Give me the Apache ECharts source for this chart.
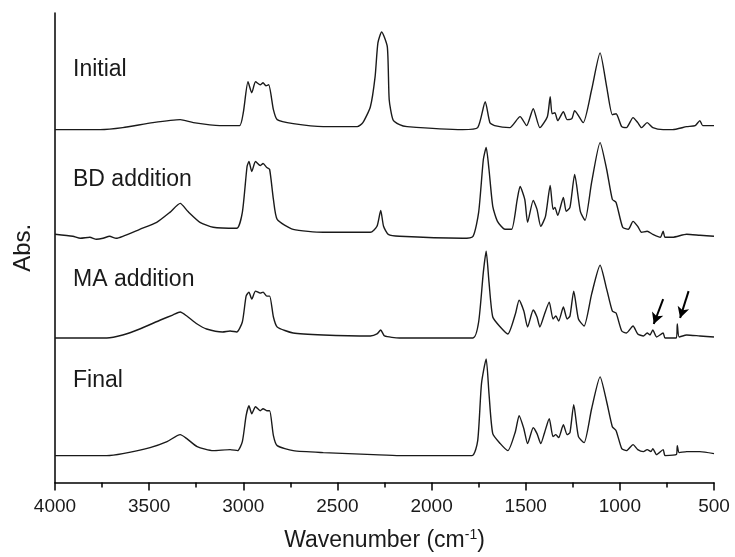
<!DOCTYPE html>
<html>
<head>
<meta charset="utf-8">
<script src="https://cdn.jsdelivr.net/npm/echarts@6/dist/echarts.min.js"></script>
<style>
  html, body { margin: 0; padding: 0; background: #fff; }
  #chart { width: 735px; height: 557px; }
</style>
</head>
<body>
<div id="chart"></div>
<script>
// spectra (wavenumber cm-1, stacked absorbance)
var initialWn = [4000, 3760, 3640, 3480, 3335, 3265, 3125, 3020, 3000, 2975, 2955, 2935, 2910, 2895, 2880, 2865, 2840, 2820, 2735, 2575, 2395, 2365, 2325, 2300, 2285, 2265, 2235, 2225, 2205, 2170, 2130, 1835, 1755, 1715, 1690, 1665, 1585, 1530, 1495, 1460, 1425, 1385, 1370, 1360, 1345, 1330, 1300, 1280, 1255, 1240, 1195, 1150, 1105, 1070, 1040, 1020, 990, 965, 930, 905, 885, 855, 825, 770, 720, 645, 600, 575, 560, 500];
var initialAbs = [3.54, 3.54, 3.56, 3.61, 3.64, 3.61, 3.58, 3.58, 3.71, 4.02, 3.91, 4.02, 3.99, 4.01, 3.98, 3.99, 3.74, 3.64, 3.60, 3.57, 3.57, 3.61, 3.77, 4.07, 4.41, 4.52, 4.37, 3.84, 3.64, 3.59, 3.57, 3.54, 3.56, 3.82, 3.61, 3.58, 3.56, 3.67, 3.58, 3.75, 3.56, 3.67, 3.87, 3.70, 3.71, 3.63, 3.72, 3.64, 3.65, 3.73, 3.61, 3.94, 4.31, 3.97, 3.69, 3.70, 3.57, 3.56, 3.66, 3.61, 3.56, 3.61, 3.56, 3.54, 3.54, 3.57, 3.58, 3.63, 3.58, 3.58];

var bdWn = [4000, 3905, 3865, 3815, 3780, 3745, 3710, 3675, 3640, 3550, 3460, 3390, 3335, 3295, 3230, 3160, 3035, 3005, 2980, 2970, 2955, 2935, 2910, 2895, 2875, 2860, 2840, 2820, 2735, 2575, 2325, 2290, 2270, 2255, 2230, 2170, 1835, 1780, 1750, 1725, 1710, 1695, 1675, 1650, 1610, 1575, 1545, 1530, 1505, 1490, 1460, 1440, 1420, 1395, 1370, 1355, 1345, 1330, 1300, 1285, 1265, 1240, 1210, 1185, 1150, 1105, 1070, 1040, 1020, 985, 955, 930, 905, 885, 855, 825, 785, 770, 760, 720, 645, 575, 500];
var bdAbs = [2.49, 2.47, 2.45, 2.46, 2.44, 2.45, 2.47, 2.45, 2.47, 2.54, 2.61, 2.71, 2.80, 2.72, 2.61, 2.56, 2.55, 2.71, 3.17, 3.22, 3.12, 3.22, 3.18, 3.20, 3.16, 3.14, 2.84, 2.64, 2.54, 2.51, 2.51, 2.57, 2.73, 2.57, 2.49, 2.47, 2.45, 2.47, 2.71, 3.24, 3.36, 3.14, 2.77, 2.62, 2.54, 2.54, 2.84, 2.97, 2.84, 2.61, 2.83, 2.74, 2.57, 2.67, 2.98, 2.74, 2.76, 2.68, 2.86, 2.72, 2.76, 3.09, 2.72, 2.63, 3.01, 3.41, 3.14, 2.84, 2.81, 2.56, 2.54, 2.62, 2.57, 2.51, 2.52, 2.49, 2.46, 2.52, 2.46, 2.46, 2.49, 2.48, 2.47];

var maWn = [4000, 3725, 3640, 3550, 3440, 3375, 3335, 3300, 3245, 3195, 3110, 3070, 3035, 3005, 2985, 2970, 2955, 2935, 2910, 2895, 2875, 2860, 2840, 2820, 2735, 2575, 2325, 2290, 2270, 2250, 2170, 1780, 1750, 1725, 1710, 1695, 1675, 1635, 1595, 1555, 1535, 1510, 1490, 1460, 1440, 1425, 1400, 1375, 1355, 1340, 1325, 1300, 1280, 1265, 1245, 1220, 1190, 1150, 1105, 1070, 1040, 1020, 990, 965, 930, 905, 875, 855, 840, 825, 805, 770, 760, 700, 695, 685, 645, 575, 500];
var maAbs = [1.45, 1.45, 1.48, 1.54, 1.63, 1.68, 1.71, 1.67, 1.59, 1.54, 1.51, 1.52, 1.51, 1.61, 1.87, 1.91, 1.84, 1.92, 1.90, 1.91, 1.87, 1.87, 1.66, 1.56, 1.50, 1.48, 1.47, 1.49, 1.53, 1.47, 1.45, 1.45, 1.61, 2.11, 2.32, 2.01, 1.66, 1.56, 1.49, 1.69, 1.83, 1.72, 1.56, 1.73, 1.66, 1.56, 1.69, 1.81, 1.64, 1.67, 1.62, 1.76, 1.64, 1.67, 1.92, 1.64, 1.57, 1.89, 2.18, 1.94, 1.72, 1.70, 1.52, 1.50, 1.57, 1.49, 1.47, 1.50, 1.48, 1.53, 1.46, 1.50, 1.45, 1.45, 1.59, 1.46, 1.48, 1.47, 1.46];

var finalWn = [4000, 3725, 3640, 3495, 3405, 3335, 3300, 3245, 3160, 3070, 3030, 3005, 2985, 2970, 2955, 2935, 2910, 2895, 2875, 2860, 2840, 2820, 2735, 2575, 2310, 2170, 1785, 1755, 1735, 1710, 1695, 1675, 1635, 1595, 1555, 1535, 1510, 1490, 1460, 1440, 1420, 1400, 1375, 1355, 1340, 1325, 1300, 1280, 1265, 1245, 1220, 1190, 1150, 1105, 1070, 1040, 1020, 990, 965, 930, 905, 875, 855, 835, 825, 805, 770, 760, 700, 695, 685, 645, 575, 500];
var finalAbs = [0.27, 0.27, 0.29, 0.35, 0.41, 0.48, 0.44, 0.36, 0.32, 0.33, 0.32, 0.41, 0.67, 0.77, 0.69, 0.76, 0.72, 0.74, 0.72, 0.72, 0.47, 0.37, 0.32, 0.30, 0.28, 0.27, 0.27, 0.42, 0.99, 1.24, 0.89, 0.49, 0.39, 0.32, 0.51, 0.67, 0.54, 0.39, 0.55, 0.49, 0.39, 0.50, 0.64, 0.46, 0.48, 0.45, 0.58, 0.48, 0.50, 0.78, 0.46, 0.40, 0.74, 1.06, 0.81, 0.56, 0.52, 0.34, 0.32, 0.38, 0.33, 0.31, 0.33, 0.31, 0.34, 0.28, 0.33, 0.27, 0.28, 0.37, 0.30, 0.31, 0.31, 0.29];

var traceNames = ['Initial', 'BD addition', 'MA addition', 'Final'];
var xTicks = [4000, 3500, 3000, 2500, 2000, 1500, 1000, 500];

// arrows on the MA trace: [from, to] as [wavenumber, abs]
var arrowFrom = [[770, 1.84], [635, 1.92]];
var arrowTo = [[820, 1.59], [680, 1.65]];

function zip(xs, ys) {
  return xs.map(function (x, i) { return [x, ys[i]]; });
}

var chart = echarts.init(document.getElementById('chart'));
var font = 'Liberation Sans, Arial, sans-serif';
var ink = '#1a1a1a';

var spectra = [
  zip(initialWn, initialAbs),
  zip(bdWn, bdAbs),
  zip(maWn, maAbs),
  zip(finalWn, finalAbs)
];

var series = spectra.map(function (d, i) {
  var s = {
    name: traceNames[i],
    type: 'line',
    data: d,
    showSymbol: false,
    symbol: 'none',
    smooth: 0.2,
    lineStyle: { color: ink, width: 1.4 },
    silent: true
  };
  if (i === 2) {
    s.markLine = {
      silent: true,
      symbol: ['none', 'arrow'],
      symbolSize: [9, 11],
      label: { show: false },
      lineStyle: { color: '#000', width: 2, type: 'solid' },
      data: arrowFrom.map(function (p, k) {
        return [{ coord: p }, { coord: arrowTo[k] }];
      })
    };
  }
  return s;
});

// trace labels, stacked down the left side
var labelTop = [70, 180, 280, 381];
var graphics = traceNames.map(function (t, i) {
  return {
    type: 'text',
    left: 73,
    top: labelTop[i] - 12,
    style: { text: t, font: '23px ' + font, fill: ink }
  };
});

var option = {
  animation: false,
  backgroundColor: '#fff',
  grid: { left: 55, right: 21, top: 13, bottom: 73 },
  xAxis: {
    type: 'value',
    inverse: true,
    min: 500,
    max: 4000,
    interval: 500,
    name: 'Wavenumber (cm{sup|-1})',
    nameLocation: 'middle',
    nameGap: 46,
    nameTextStyle: {
      fontFamily: font, fontSize: 23, color: ink,
      rich: { sup: { fontFamily: font, fontSize: 14, color: ink, verticalAlign: 'top', padding: [0, 0, 10, 0] } }
    },
    axisLine: { lineStyle: { color: '#000', width: 1.5 } },
    axisTick: { show: true, inside: false, length: 8, lineStyle: { color: '#000', width: 1.5 } },
    minorTick: { show: true, splitNumber: 2, length: 5, lineStyle: { color: '#000', width: 1.5 } },
    axisLabel: {
      fontFamily: font, fontSize: 19, color: ink, margin: 15,
      formatter: function (v) { return xTicks.indexOf(v) >= 0 ? String(v) : ''; }
    },
    splitLine: { show: false }
  },
  yAxis: {
    type: 'value',
    min: 0,
    max: 4.71,
    name: 'Abs.',
    nameLocation: 'middle',
    nameGap: 20,
    nameTextStyle: { fontFamily: font, fontSize: 24, color: ink },
    axisLine: { show: true, lineStyle: { color: '#000', width: 1.5 } },
    axisTick: { show: false },
    axisLabel: { show: false },
    splitLine: { show: false }
  },
  graphic: graphics,
  series: series
};

chart.setOption(option);
</script>
</body>
</html>
